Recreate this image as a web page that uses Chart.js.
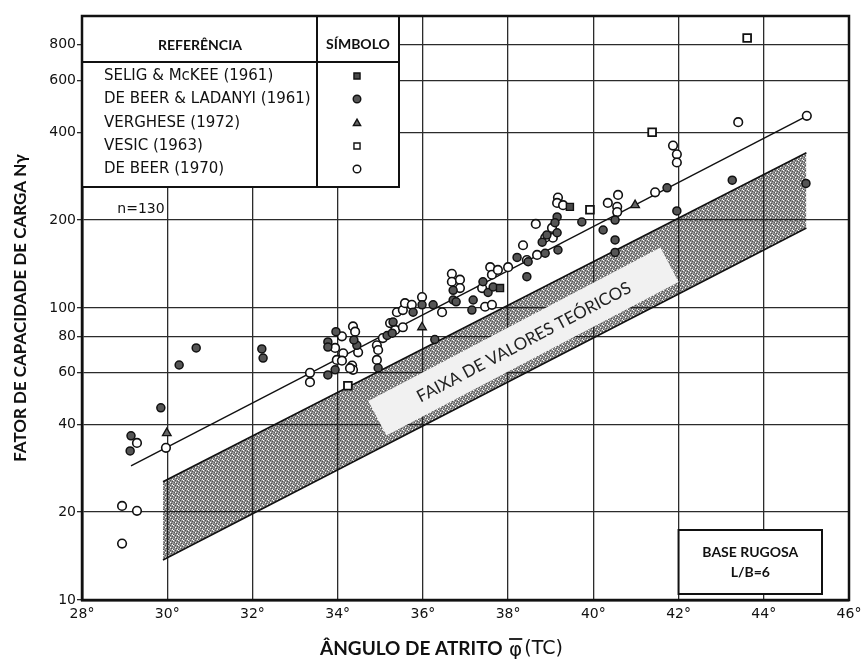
<!DOCTYPE html>
<html><head><meta charset="utf-8">
<script src="https://cdn.jsdelivr.net/npm/chart.js@4.4.0/dist/chart.umd.min.js"></script>
<style>html,body{margin:0;padding:0;background:#fff}#wrap{width:862px;height:659px;position:relative}</style>
</head><body><div id="wrap"><canvas id="c"></canvas></div>
<script>
// ---- tick labels ----
const xTickValues = [28, 30, 32, 34, 36, 38, 40, 42, 44, 46];
const yTickValues = [10, 20, 40, 60, 80, 100, 200, 400, 600, 800];

// ---- series (angle in degrees, N-gamma) ----
const seligAngle = [37.81, 39.45];
const seligN     = [117, 222];

const ladanyiAngle = [30.68, 30.28, 32.22, 32.25, 29.85, 29.15, 29.13,
  33.96, 33.77, 33.77, 34.45, 34.38, 33.94, 33.77,
  34.95, 35.16, 35.30, 35.28, 35.77, 35.98, 36.28,
  36.24, 36.71, 36.71, 36.78, 37.18, 37.15, 37.41, 37.53, 37.65, 38.21, 38.47, 38.44, 38.80, 38.91,
  39.15, 39.10, 39.15, 38.87, 39.17, 39.73, 40.23, 40.51, 40.51, 40.51, 41.73, 41.96, 43.26, 44.99];
const ladanyiN = [73.0, 63.8, 72.4, 67.4, 45.5, 36.5, 32.4,
  83, 76.5, 73.5, 74.5, 77.7, 61.4, 59,
  62.3, 80.5, 89.5, 82, 96.7, 102.5, 78,
  102.5, 115, 106.5, 105, 106.5, 98.4, 123, 113, 118, 149, 144, 128, 168, 178,
  205, 196, 181, 154, 158, 197, 185, 171, 155, 200, 258, 215, 274, 267];

const vergheseAngle = [29.99, 35.98, 40.98];
const vergheseN     = [37.3, 85.9, 225];

const vesicAngle = [34.24, 39.92, 41.38, 43.61];
const vesicN     = [54.2, 217, 400, 841];

const deBeerAngle = [29.29, 29.97, 28.94, 29.29, 28.94,
  34.36, 34.41, 34.10, 33.94, 34.13, 33.98, 34.10, 34.34, 34.36, 34.48, 33.35, 33.35, 34.29,
  34.92, 34.95, 34.92, 35.06, 35.23, 35.35, 35.53, 35.39, 35.53, 35.58, 35.74, 35.98,
  36.45, 36.68, 36.68, 36.87, 36.87, 37.46, 37.62, 37.58, 37.62, 37.76, 37.39, 38.00, 38.35, 38.44, 38.68, 38.65,
  39.17, 39.15, 39.29, 40.58, 40.34, 40.56, 40.56, 41.45, 39.03, 39.05, 38.87,
  41.87, 41.96, 41.96, 43.40, 45.01];
const deBeerN = [34.5, 33.2, 21.0, 20.2, 15.6,
  86.5, 83, 80, 73, 70, 66.4, 66, 63.5, 61.4, 70.5, 60, 55.7, 62.2,
  74.5, 71.8, 66.4, 78.9, 88.8, 84.1, 85.9, 96.7, 98.4, 103.9, 102.5, 109,
  96.7, 131, 123, 125, 117, 101, 102.5, 138, 130, 135, 117, 138, 164, 146, 152, 194,
  239, 229, 225, 244, 229, 222, 213, 249, 188, 174, 174,
  360, 336, 315, 433, 455];

// fitted line and theoretical band
const fitAngle = [29.15, 44.95];
const fitN     = [28.8, 450];
const bandAngle = [29.9, 45.0];
const bandUpper = [25.4, 340];
const bandLower = [13.7, 188];

const legendNames = ['SELIG & McKEE (1961)', 'DE BEER & LADANYI (1961)', 'VERGHESE (1972)', 'VESIC (1963)', 'DE BEER (1970)'];

const pts = (xs, ys) => xs.map((v, i) => ({x: v, y: ys[i]}));

const canvas = document.getElementById('c');
const baseCtx = canvas.getContext('2d');
function stipple() {
  const c = document.createElement('canvas'); c.width = 5; c.height = 5;
  const g = c.getContext('2d');
  g.fillStyle = 'rgba(30,30,30,0.48)'; g.fillRect(0, 0, 5, 5);
  g.fillStyle = 'rgba(0,0,0,0.45)';
  [[0,0],[2,1],[4,2],[1,3],[3,4]].forEach(([i,j]) => g.fillRect(i, j, 1, 1));
  [[3,0],[0,2],[2,4]].forEach(([i,j]) => g.clearRect(i, j, 1, 1));
  return baseCtx.createPattern(c, 'repeat');
}
const bandFill = stipple();

const styles = {
  selig:   {pointStyle: 'rect', radius: 5, bg: '#4a4a4a', bw: 1.4},
  ladanyi: {pointStyle: 'circle', radius: 4, bg: '#555', bw: 1.5},
  verghese:{pointStyle: 'triangle', radius: 5, bg: '#666', bw: 1.3},
  vesic:   {pointStyle: 'rect', radius: 5.5, bg: '#fff', bw: 1.8},
  debeer:  {pointStyle: 'circle', radius: 4.3, bg: '#fff', bw: 1.6}
};
const sKeys = ['selig', 'ladanyi', 'verghese', 'vesic', 'debeer'];

function ptDS(label, data, s) {
  return {label, data, showLine: false, pointStyle: s.pointStyle, pointRadius: s.radius,
    pointBackgroundColor: s.bg, pointBorderColor: '#111', pointBorderWidth: s.bw, backgroundColor: s.bg, borderColor: '#111'};
}

function drawSym(ctx, s, x, y, r) {
  ctx.fillStyle = s.bg; ctx.strokeStyle = '#111'; ctx.lineWidth = 1.4;
  ctx.beginPath();
  if (s.pointStyle === 'circle') ctx.arc(x, y, r, 0, Math.PI * 2);
  else if (s.pointStyle === 'rect') ctx.rect(x - r * 0.8, y - r * 0.8, r * 1.6, r * 1.6);
  else { ctx.moveTo(x, y - r); ctx.lineTo(x + r * 0.95, y + r * 0.65); ctx.lineTo(x - r * 0.95, y + r * 0.65); ctx.closePath(); }
  ctx.fill(); ctx.stroke();
}

const overlay = {
  id: 'overlay',
  afterDatasetsDraw(chart) {
    const {ctx, chartArea: a, scales: {x, y}} = chart;
    ctx.save();
    // band label
    const cx = x.getPixelForValue(38.36), cy = y.getPixelForValue(76.8);
    ctx.translate(cx, cy); ctx.rotate(-27.7 * Math.PI / 180);
    ctx.fillStyle = '#f1f1f1'; ctx.fillRect(-165, -19.5, 330, 39);
    ctx.fillStyle = '#222'; ctx.font = '17px Lato'; ctx.textAlign = 'center'; ctx.textBaseline = 'middle';
    ctx.fillText('FAIXA DE VALORES TEÓRICOS', 0, 1);
    ctx.restore();

    // legend table
    ctx.save();
    const L = a.left, T = a.top, R = 399, B = 187, C = 317, H = 62;
    ctx.fillStyle = '#fff'; ctx.fillRect(L, T, R - L, B - T);
    ctx.strokeStyle = '#111'; ctx.lineWidth = 2;
    ctx.strokeRect(L, T, R - L, B - T);
    ctx.beginPath(); ctx.moveTo(L, H); ctx.lineTo(R, H); ctx.moveTo(C, T); ctx.lineTo(C, B); ctx.stroke();
    ctx.fillStyle = '#111'; ctx.font = 'bold 14px Lato'; ctx.textAlign = 'center'; ctx.textBaseline = 'middle';
    ctx.fillText('REFERÊNCIA', 200, 45);
    ctx.fillText('SÍMBOLO', 358, 44);
    ctx.font = '15px "DejaVu Sans"'; ctx.textAlign = 'left';
    const rowsY = [76, 99, 123, 146, 169];
    legendNames.forEach((n, i) => {
      ctx.fillStyle = '#111'; ctx.fillText(n, 104, rowsY[i]);
      drawSym(ctx, styles[sKeys[i]], 357, rowsY[i], 3.8);
    });
    // n=130
    ctx.fillStyle = '#111'; ctx.textAlign = 'center';
    ctx.font = '14px "DejaVu Sans"';
    ctx.fillText('n=130', 141, 209);
    // base rugosa box
    const bx = x.getPixelForValue(42);
    ctx.fillStyle = '#fff'; ctx.fillRect(bx, 530, 822 - bx, 64);
    ctx.lineWidth = 2; ctx.strokeRect(bx, 530, 822 - bx, 64);
    ctx.fillStyle = '#111'; ctx.font = 'bold 14px Lato';
    ctx.fillText('BASE RUGOSA', (bx + 822) / 2, 552);
    ctx.fillText('L/B=6', (bx + 822) / 2, 572);
    // frame
    ctx.lineWidth = 2.5; ctx.strokeRect(a.left, a.top, a.right - a.left, a.bottom - a.top);

    // x-axis title
    const ty = 649;
    ctx.textAlign = 'left'; ctx.textBaseline = 'middle'; ctx.fillStyle = '#111';
    ctx.font = 'bold 19px Lato';
    const t1 = 'ÂNGULO DE ATRITO ';
    let tx = 320;
    ctx.fillText(t1, tx, ty);
    tx += ctx.measureText(t1).width + 2;
    ctx.font = '20px "DejaVu Sans"';
    const phiW = ctx.measureText('\u03C6').width;
    ctx.fillText('\u03C6', tx, ty + 2);
    ctx.lineWidth = 1.8; ctx.beginPath(); ctx.moveTo(tx, ty - 10); ctx.lineTo(tx + phiW, ty - 10); ctx.stroke();
    tx += phiW + 2;
    ctx.font = '19px "DejaVu Sans"';
    ctx.fillText('(TC)', tx, ty);
    ctx.restore();
  }
};

new Chart(canvas, {
  type: 'scatter',
  data: {
    datasets: [
      ptDS(legendNames[0], pts(seligAngle, seligN), styles.selig),
      ptDS(legendNames[1], pts(ladanyiAngle, ladanyiN), styles.ladanyi),
      ptDS(legendNames[2], pts(vergheseAngle, vergheseN), styles.verghese),
      ptDS(legendNames[3], pts(vesicAngle, vesicN), styles.vesic),
      ptDS(legendNames[4], pts(deBeerAngle, deBeerN), styles.debeer),
      {label: 'fit', data: pts(fitAngle, fitN), showLine: true, pointRadius: 0, borderColor: '#111', borderWidth: 1.4, fill: false},
      {label: 'bandU', data: pts(bandAngle, bandUpper), showLine: true, pointRadius: 0, borderColor: '#111', borderWidth: 1.6, fill: '+1', backgroundColor: bandFill},
      {label: 'bandL', data: pts(bandAngle, bandLower), showLine: true, pointRadius: 0, borderColor: '#111', borderWidth: 1.6, fill: false}
    ]
  },
  options: {
    responsive: true, maintainAspectRatio: false, animation: false,
    layout: {padding: {top: 16, right: 13, left: 0, bottom: 0}},
    plugins: {legend: {display: false}, tooltip: {enabled: false}},
    scales: {
      x: {
        type: 'linear', min: 28, max: 46,
        afterBuildTicks: s => { s.ticks = xTickValues.map(v => ({value: v})); },
        ticks: {callback: v => v + '°', font: {family: 'DejaVu Sans', size: 14}, color: '#111', padding: 6, maxRotation: 0, autoSkip: false},
        grid: {color: '#2b2b2b', lineWidth: 1.3, drawTicks: false},
        border: {color: '#111', width: 2.5},
        title: {display: false},
        afterFit: s => { s.height = 59; s.paddingLeft = 0; s.paddingRight = 0; }
      },
      y: {
        type: 'logarithmic', min: 10, max: 1000,
        afterBuildTicks: s => { s.ticks = yTickValues.map(v => ({value: v})); },
        ticks: {callback: v => String(v), font: {family: 'DejaVu Sans', size: 14}, color: '#111', padding: 1, autoSkip: false},
        grid: {color: '#2b2b2b', lineWidth: 1.3, tickLength: 5},
        border: {color: '#111', width: 2.5},
        title: {display: true, text: 'FATOR DE CAPACIDADE DE CARGA Nγ', font: {family: 'Lato', weight: 'bold', size: 17}, color: '#111', padding: {top: 10, bottom: 0}},
        afterFit: s => { s.width = 82; s.paddingTop = 0; s.paddingBottom = 0; }
      }
    }
  },
  plugins: [overlay]
});
</script>
</body></html>
